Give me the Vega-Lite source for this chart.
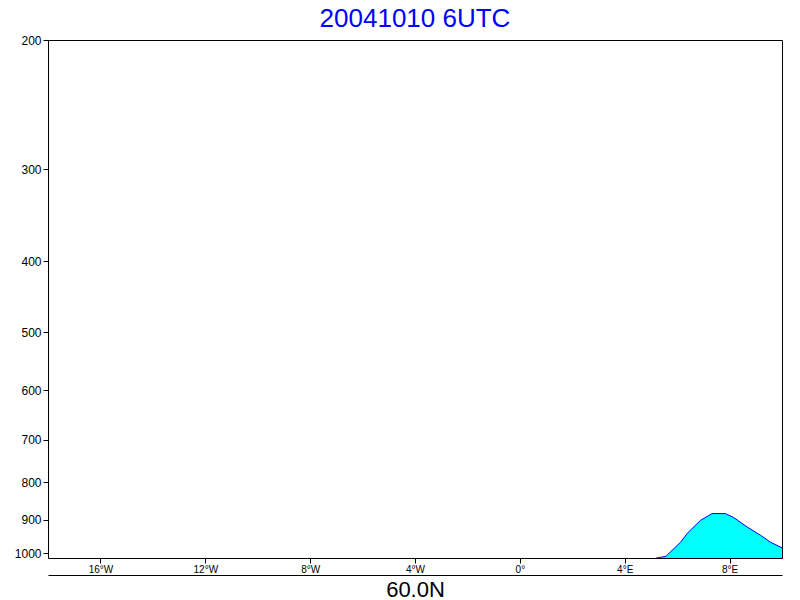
{
  "$schema": "https://vega.github.io/schema/vega-lite/v6.json",
  "width": 734,
  "height": 518,
  "autosize": {"type": "none"},
  "padding": {"left": 48, "top": 40, "right": 18, "bottom": 42},
  "background": "white",
  "title": {
    "text": "20041010 6UTC",
    "color": "#0000ff",
    "fontSize": 26,
    "font": "Liberation Sans",
    "fontWeight": "normal",
    "anchor": "middle",
    "offset": 2
  },
  "config": {
    "view": {"stroke": "black", "strokeWidth": 1},
    "axis": {
      "labelFont": "Liberation Sans",
      "titleFont": "Liberation Sans",
      "labelColor": "black",
      "tickColor": "black",
      "domainColor": "black",
      "titleColor": "black",
      "grid": false
    }
  },
  "data": {
    "values": [
      {"lon": 5.2, "p": 1015, "base": 1015},
      {"lon": 5.42, "p": 1012, "base": 1015},
      {"lon": 5.58, "p": 1009, "base": 1015},
      {"lon": 5.74, "p": 996, "base": 1015},
      {"lon": 6.12, "p": 967, "base": 1015},
      {"lon": 6.38, "p": 940, "base": 1015},
      {"lon": 6.89, "p": 902, "base": 1015},
      {"lon": 7.33, "p": 883, "base": 1015},
      {"lon": 7.84, "p": 883, "base": 1015},
      {"lon": 8.16, "p": 894, "base": 1015},
      {"lon": 8.67, "p": 921, "base": 1015},
      {"lon": 9.18, "p": 945, "base": 1015},
      {"lon": 9.56, "p": 966, "base": 1015},
      {"lon": 10.0, "p": 983, "base": 1015}
    ]
  },
  "layer": [
    {
      "mark": {"type": "area", "color": "#00ffff", "clip": true, "interpolate": "linear"},
      "encoding": {
        "x": {
          "field": "lon", "type": "quantitative",
          "scale": {"domain": [-18, 10], "nice": false, "zero": false},
          "axis": {
            "orient": "bottom",
            "domain": false,
            "ticks": true,
            "tickSize": 5,
            "values": [-16, -12, -8, -4, 0, 4, 8],
            "labelExpr": "datum.value < 0 ? (-datum.value) + '°W' : (datum.value > 0 ? datum.value + '°E' : '0°')",
            "labelFontSize": 10,
            "labelPadding": 1,
            "title": null
          }
        },
        "y": {
          "field": "p", "type": "quantitative",
          "scale": {"type": "log", "domain": [200, 1015], "reverse": true, "nice": false, "zero": false},
          "axis": {
            "orient": "left",
            "domain": false,
            "tickSize": 5,
            "values": [200, 300, 400, 500, 600, 700, 800, 900, 1000],
            "format": "d",
            "labelFontSize": 12,
            "labelPadding": 2,
            "title": null
          }
        },
        "y2": {"field": "base"}
      }
    },
    {
      "mark": {"type": "line", "color": "#0000ff", "strokeWidth": 1, "clip": true},
      "encoding": {
        "x": {
          "field": "lon", "type": "quantitative",
          "axis": {
            "orient": "bottom",
            "offset": 17,
            "domain": true,
            "ticks": false,
            "labels": false,
            "title": "60.0N",
            "titleFontSize": 22,
            "titleFontWeight": "normal",
            "titlePadding": 4
          }
        },
        "y": {"field": "p", "type": "quantitative", "axis": null}
      }
    }
  ],
  "resolve": {"axis": {"x": "independent", "y": "independent"}}
}
